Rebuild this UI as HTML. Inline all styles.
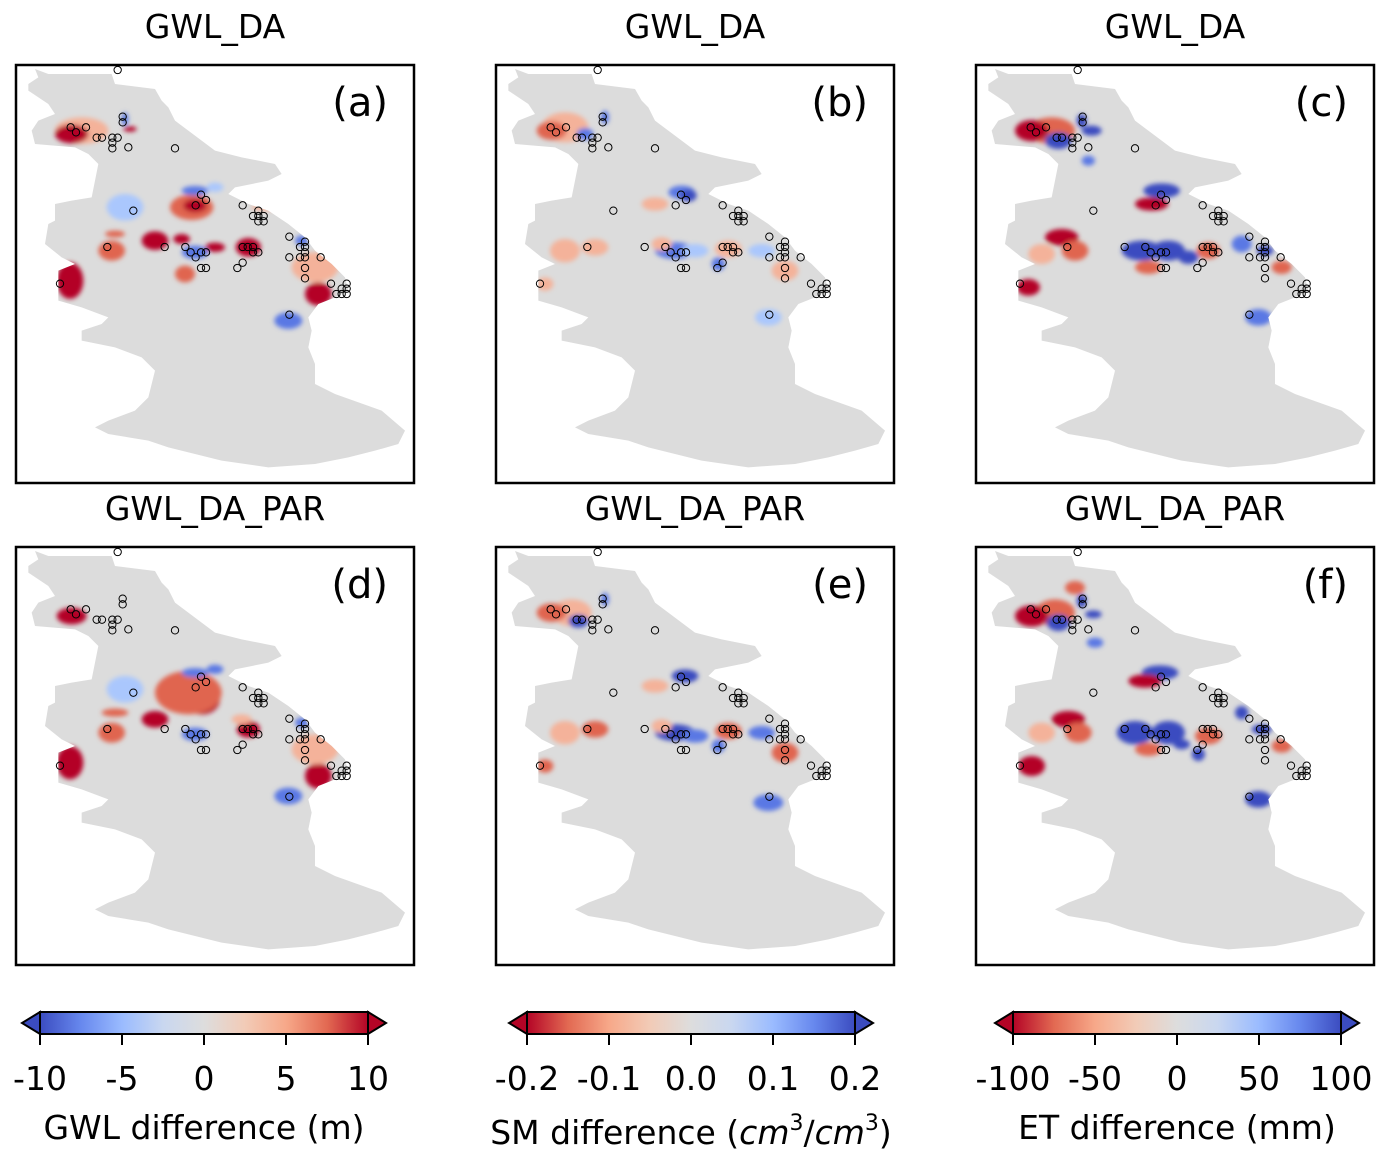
<!DOCTYPE html>
<html><head><meta charset="utf-8">
<style>
body{margin:0;background:#fff;font-family:"DejaVu Sans","Liberation Sans",sans-serif;}
#root{position:relative;width:1391px;height:1163px;overflow:hidden;}
svg text{font-family:"DejaVu Sans","Liberation Sans",sans-serif;}
</style></head><body>
<div id="root">
<svg id="svg" width="1391" height="1163" style="position:absolute;left:0;top:0"></svg>
</div>
<script>
const NS='http://www.w3.org/2000/svg';
const svg=document.getElementById('svg');
const basin=[[60,15],[100,30],[290,30],[300,60],[420,75],[440,110],[460,130],[480,170],[520,200],[560,230],[600,260],[680,280],[780,300],[800,330],[760,350],[660,370],[640,390],[700,420],[760,440],[820,480],[870,520],[900,560],[950,600],[990,640],[1000,680],[960,700],[910,720],[880,760],[890,800],[880,850],[900,900],[900,960],[960,990],[1100,1040],[1170,1100],[1150,1140],[1080,1160],[1000,1180],[900,1200],[760,1210],[620,1190],[540,1170],[460,1150],[400,1130],[280,1110],[240,1090],[280,1070],[360,1040],[400,1000],[420,920],[380,880],[300,850],[200,830],[200,800],[260,780],[280,760],[200,730],[130,710],[130,620],[180,600],[140,580],[90,540],[100,480],[120,470],[120,420],[170,410],[230,400],[240,350],[250,300],[220,270],[180,250],[60,240],[50,200],[70,170],[120,150],[100,120],[40,80],[40,60],[70,40]];
const stations=[[308,18],[323,158],[323,175],[167,190],[183,205],[213,190],[245,221],[261,221],[292,221],[308,221],[292,236],[292,253],[340,250],[480,253],[558,392],[573,408],[542,424],[355,440],[683,424],[730,440],[714,456],[730,456],[746,456],[730,472],[746,472],[823,518],[870,533],[855,549],[870,549],[870,565],[277,549],[449,549],[511,549],[527,565],[542,580],[558,565],[573,565],[683,549],[698,549],[714,549],[714,565],[730,565],[823,580],[855,580],[870,580],[917,580],[683,596],[667,612],[558,612],[573,612],[870,612],[870,643],[135,659],[948,659],[995,659],[980,674],[995,674],[964,690],[980,690],[995,690],[823,752]];
const DR='#b40426',R='#e0654f',LR='#f4b29a',DB='#3b4cc0',B='#5a78e4',LB='#aac7fd';
const blobsA=[[200,200,80,40,LR],[170,210,50,28,DR],[345,195,20,8,DR],[165,650,40,55,DR],[910,690,40,35,DR],[700,550,38,28,DR],[530,430,65,38,R],[540,425,35,20,DR],[420,530,40,28,DR],[290,560,40,30,R],[510,630,30,25,R],[600,550,30,14,DR],[500,525,25,15,DR],[300,510,30,10,R],[900,610,70,45,LR],[750,430,40,10,LR],[540,380,40,14,B],[600,370,25,14,LB],[820,770,42,25,B],[540,565,40,20,B],[330,165,10,20,B],[330,430,55,40,LB],[860,530,20,15,B]];
const blobsD=[[170,210,45,25,DR],[560,460,55,45,DR],[520,440,100,65,R],[165,650,40,50,DR],[910,690,40,38,DR],[700,550,35,25,DR],[420,520,40,25,DR],[290,560,40,30,R],[900,610,70,45,LR],[540,380,40,14,B],[600,370,25,14,B],[820,750,42,25,B],[540,565,40,20,B],[330,430,55,40,LB],[860,530,20,15,B],[300,500,40,12,R],[680,520,30,15,LR]];
const blobsB=[[210,190,70,45,LR],[170,200,45,28,R],[270,210,25,18,B],[560,385,40,20,B],[580,395,25,18,DB],[540,560,60,25,B],[600,560,40,20,LB],[210,560,45,35,LR],[300,550,40,25,LR],[500,540,30,20,LR],[700,555,40,25,LR],[670,600,20,20,B],[800,560,40,20,LB],[870,620,40,30,LR],[820,760,40,25,LB],[480,420,40,20,LR],[150,660,25,20,LR],[330,160,12,20,B]];
const blobsC=[[230,200,70,40,R],[170,200,50,32,DR],[250,230,40,25,DB],[350,200,30,15,DB],[560,380,55,22,DB],[530,420,50,20,DR],[500,560,60,30,DB],[580,560,50,30,DB],[640,580,30,20,DB],[260,520,50,25,DR],[300,560,40,30,R],[200,570,40,30,LR],[700,560,35,25,R],[800,540,30,25,B],[870,560,25,15,DB],[920,610,30,20,R],[850,760,40,25,B],[160,670,35,25,DR],[520,610,40,20,R],[340,290,20,15,B],[320,170,15,20,DB]];
const blobsE=[[230,200,60,40,LR],[170,200,45,28,R],[250,225,30,20,DB],[570,390,40,20,DB],[540,560,60,25,DB],[600,570,40,20,B],[210,560,45,35,LR],[300,550,40,25,R],[500,540,30,20,LR],[700,555,40,25,R],[670,600,20,20,B],[800,560,40,20,B],[870,620,40,30,R],[820,770,45,25,B],[480,420,40,20,LR],[150,660,25,20,R],[330,160,12,20,B]];
const blobsF=[[240,200,60,40,R],[170,210,50,32,DR],[250,230,35,25,DB],[355,205,25,12,DB],[555,380,55,22,DB],[510,405,50,20,DR],[480,560,55,35,DB],[580,560,50,35,DB],[620,595,25,15,DB],[670,625,20,20,DB],[280,520,50,25,DR],[310,560,40,30,R],[200,560,40,30,LR],[700,570,40,25,R],[800,500,20,20,DB],[860,550,30,15,DB],[920,600,30,20,R],[850,760,40,25,DB],[170,660,40,30,DR],[520,610,40,20,R],[360,290,25,15,B],[320,165,15,20,DB],[300,125,30,20,R]];
const panels=[[15,64,'GWL_DA','(a)',blobsA],[495,64,'GWL_DA','(b)',blobsB],[975,64,'GWL_DA','(c)',blobsC],[15,546,'GWL_DA_PAR','(d)',blobsD],[495,546,'GWL_DA_PAR','(e)',blobsE],[975,546,'GWL_DA_PAR','(f)',blobsF]];
function mk(tag,attrs,parent){const e=document.createElementNS(NS,tag);for(const k in attrs)e.setAttribute(k,attrs[k]);(parent||svg).appendChild(e);return e;}
const defs=mk('defs',{});
const flt=mk('filter',{id:'blur',x:'-50%',y:'-50%',width:'200%',height:'200%'},defs);
mk('feGaussianBlur',{stdDeviation:'7'},flt);
const cp=mk('clipPath',{id:'basin'},defs);
mk('polygon',{points:basin.map(p=>p.join(',')).join(' ')},cp);
function grad(id,stops){const g=mk('linearGradient',{id:id,x1:'0',x2:'1',y1:'0',y2:'0'},defs);stops.forEach((c,i)=>mk('stop',{offset:(i/(stops.length-1)),'stop-color':c},g));}
const cw=['#3b4cc0','#6788ee','#9abbff','#c9d7f0','#dddddd','#f2cbb7','#f7a889','#e26952','#b40426'];
grad('cw',cw);grad('cwr',cw.slice().reverse());
panels.forEach((p,i)=>{
  const [x,y,title,lab,blobs]=p;
  const g=mk('g',{transform:`translate(${x},${y}) scale(${400/1200},${420/1260})`});
  
  
  mk('polygon',{points:basin.map(q=>q.join(',')).join(' '),fill:'#dcdcdc'},g);
  const bg=mk('g',{'clip-path':'url(#basin)'},g);
  const fg=mk('g',{filter:'url(#blur)'},bg);
  blobs.forEach(b=>{const e=mk('ellipse',{cx:b[0],cy:b[1],rx:b[2],ry:b[3],fill:b[4]},fg);
    
    });
  stations.forEach(s=>{const c=mk('circle',{cx:s[0],cy:s[1],r:11,fill:'none',stroke:'#000','stroke-width':3},g);
    
    });
  const fr=mk('rect',{x:x+1,y:y+1,width:398,height:418,fill:'none',stroke:'#000','stroke-width':2.5});
  
  
  const t=mk('text',{x:x+200,y:y-26,'text-anchor':'middle','font-size':33});
  t.textContent=title;
  
  
  const l=mk('text',{x:x+373,y:y+52,'text-anchor':'end','font-size':40});
  l.textContent=lab;
  
  
});
const cbTicks=[['-10','-5','0','5','10'],['-0.2','-0.1','0.0','0.1','0.2'],['-100','-50','0','50','100']];
const cbLabels=['GWL difference (m)',null,'ET difference (mm)'];
const cbX=[40,527,1013],cbW=328;
cbX.forEach((x0,i)=>{
  const y0=1012,h=22;
  const g=mk('g',{});
  
  
  const ends=i==0?['#3b4cc0','#b40426']:['#b40426','#3b4cc0'];
  mk('polygon',{points:`${x0},${y0} ${x0-18},${y0+h/2} ${x0},${y0+h}`,fill:ends[0],stroke:'#000','stroke-width':2},g);
  mk('polygon',{points:`${x0+cbW},${y0} ${x0+cbW+18},${y0+h/2} ${x0+cbW},${y0+h}`,fill:ends[1],stroke:'#000','stroke-width':2},g);
  mk('rect',{x:x0,y:y0,width:cbW,height:h,fill:i==0?'url(#cw)':'url(#cwr)',stroke:'#000','stroke-width':2},g);
  cbTicks[i].forEach((tk,j)=>{const tx=x0+j*cbW/4;
    mk('line',{x1:tx,x2:tx,y1:y0+h,y2:y0+h+11,stroke:'#000','stroke-width':2},g);
    const t=mk('text',{x:tx,y:1090,'text-anchor':'middle','font-size':33},g);t.textContent=tk;
    
    });
  const lt=mk('text',{x:x0+cbW/2,y:i==1?1144:1139,'text-anchor':'middle','font-size':33},g);
  
  
  if(i==1){lt.innerHTML='SM difference (<tspan font-style="italic">cm</tspan><tspan font-size="22" dy="-14">3</tspan><tspan dy="14">/</tspan><tspan font-style="italic">cm</tspan><tspan font-size="22" dy="-14">3</tspan><tspan dy="14">)</tspan>';}
  else lt.textContent=cbLabels[i];
});
</script>
</body></html>
